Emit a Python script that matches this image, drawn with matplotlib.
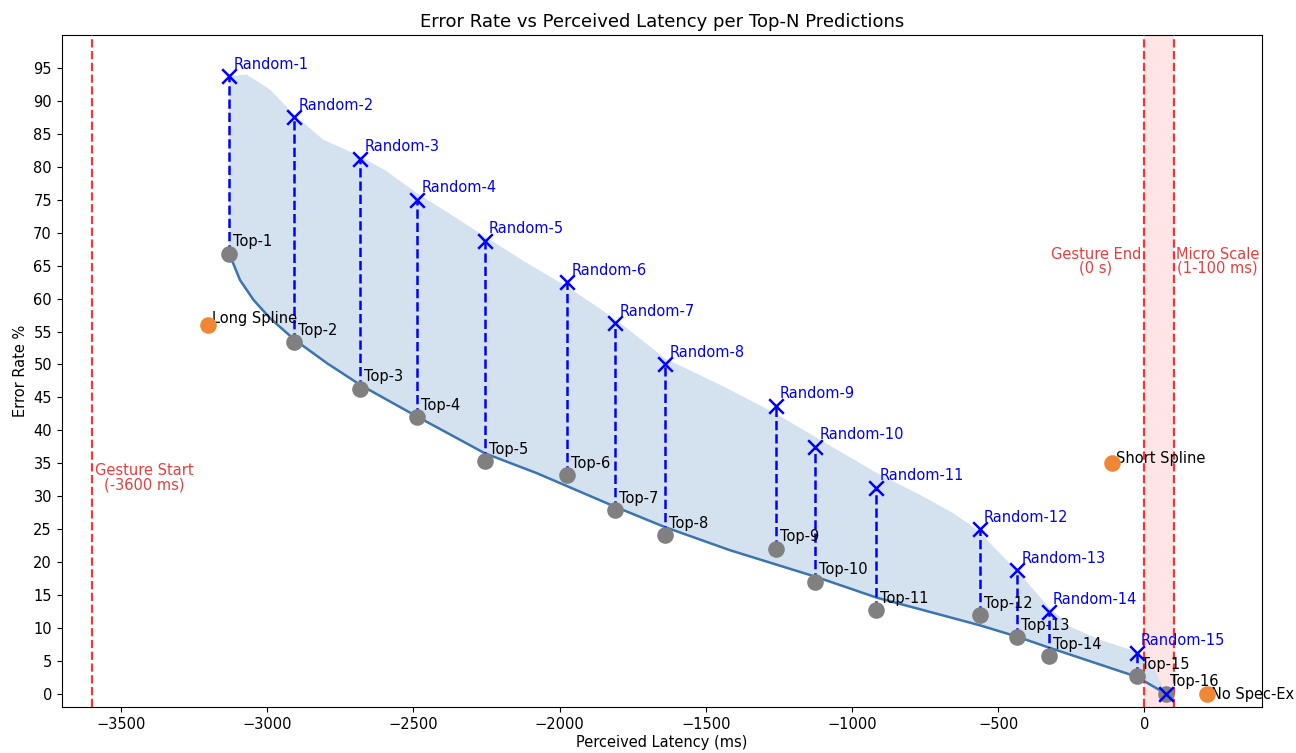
import matplotlib
matplotlib.use("Agg")
import matplotlib.pyplot as plt

# latency (ms) of each Top-N prediction and its error rate (%)
top_latency = [-3130, -2908, -2682, -2487, -2255, -1974, -1810, -1639,
               -1260, -1126, -918, -562, -435, -326, -25, 74]
top_error = [66.8, 53.4, 46.3, 42.0, 35.3, 33.2, 27.9, 24.1,
             22.0, 17.0, 12.7, 11.9, 8.6, 5.7, 2.7, 0.0]
random_error = [93.75, 87.5, 81.25, 75.0, 68.75, 62.5, 56.25, 50.0,
                43.75, 37.5, 31.25, 25.0, 18.75, 12.5, 6.25, 0.0]

# smoothed trend of the top-N curve
trend_x = [-3130, -3093, -3047, -2990, -2908, -2796, -2682, -2488, -2255,
           -2078, -1810, -1639, -1417, -1126, -1007, -915, -562, -436,
           -328, -26, 74]
trend_low = [66.8, 62.8, 59.8, 57.0, 53.8, 50.2, 46.9, 42.1, 36.5,
             33.5, 28.4, 25.3, 21.8, 17.8, 16.0, 14.6, 10.4, 8.7,
             7.05, 2.6, 0.0]
# upper edge of the shaded band (smoothed random curve)
band_x = [-3130, -3070, -2990, -2908, -2808, -2682, -2591, -2488, -2363,
          -2255, -2112, -1975, -1873, -1793, -1639, -1451, -1263, -1126,
          -918, -767, -653, -562, -516, -442, -379, -328, -254, -151,
          -26, 31, 74]
band_high = [93.75, 94.0, 91.7, 87.9, 84.1, 81.6, 79.3, 76.0, 72.5,
             69.4, 65.4, 61.8, 58.8, 56.3, 50.9, 46.9, 42.6, 39.0,
             33.6, 30.2, 27.4, 24.6, 22.3, 19.0, 15.8, 13.2, 10.2, 8.2,
             6.4, 4.1, 0.0]

other_names = ["Long Spline", "Short Spline", "No Spec-Ex"]
other_latency = [-3202, -110, 215]
other_error = [56.0, 35.0, 0.0]

gesture_start = -3600
gesture_end = 0
micro_end = 100

fig, ax = plt.subplots(figsize=(12.96, 7.53), dpi=100)
fig.subplots_adjust(left=0.0476, right=0.9735, top=0.9535, bottom=0.061)

# shaded band between the two curves
ax.fill(band_x + trend_x[::-1], band_high + trend_low[::-1],
        color="#d4e1ee", lw=0, zorder=1)
ax.plot(trend_x, trend_low, color="#3a75af", lw=1.8, zorder=2)

ax.axvspan(gesture_end, micro_end, color="red", alpha=0.1, lw=0, zorder=0)
for xv in [gesture_start, gesture_end, micro_end]:
    ax.axvline(xv, color="red", ls="--", lw=1.6, alpha=0.8, zorder=3)

for i in range(len(top_latency)):
    x = top_latency[i]
    if random_error[i] != top_error[i]:
        ax.plot([x, x], [top_error[i], random_error[i]], "b--", lw=1.8, zorder=3)

ax.scatter(top_latency, top_error, s=120, color="gray", zorder=4)
ax.scatter(top_latency, random_error, s=110, marker="x", color="blue",
           linewidths=1.8, zorder=5)
ax.scatter(other_latency, other_error, s=120, color="#ef8736", zorder=4)

for i in range(len(top_latency)):
    ax.annotate(f"Top-{i+1}", (top_latency[i], top_error[i]), xytext=(4, 12),
                textcoords="offset pixels", va="center", fontsize=10.5)
    if i < 15:
        ax.annotate(f"Random-{i+1}", (top_latency[i], random_error[i]),
                    xytext=(4, 12), textcoords="offset pixels", va="center",
                    color="blue", fontsize=10.5)

other_dy = [6, 5, -1]
for name, x, y, dy in zip(other_names, other_latency, other_error, other_dy):
    ax.annotate(name, (x, y), xytext=(4, dy), textcoords="offset pixels",
                va="center", fontsize=10.5, annotation_clip=False)

txt_color = (0.9, 0.1, 0.1, 0.85)
ax.text(-3420, 32.8, "Gesture Start\n(-3600 ms)", ha="center", va="center",
        color=txt_color, fontsize=10.5, linespacing=0.9)
ax.text(-11, 65.7, "Gesture End\n(0 s)", ha="right", va="center",
        multialignment="center", color=txt_color, fontsize=10.5, linespacing=0.9)
ax.text(108, 65.7, "Micro Scale\n(1-100 ms)", ha="left", va="center",
        multialignment="center", color=txt_color, fontsize=10.5, linespacing=0.9)

ax.set_xlim(-3703, 401)
ax.set_ylim(-2, 100)
ax.set_yticks(range(0, 100, 5))
ax.set_xlabel("Perceived Latency (ms)", fontsize=10.5, labelpad=2)
ax.set_ylabel("Error Rate %", fontsize=10.5)
ax.set_title("Error Rate vs Perceived Latency per Top-N Predictions", fontsize=13)
ax.tick_params(labelsize=10.5)

fig.savefig("out.png", dpi=100)
